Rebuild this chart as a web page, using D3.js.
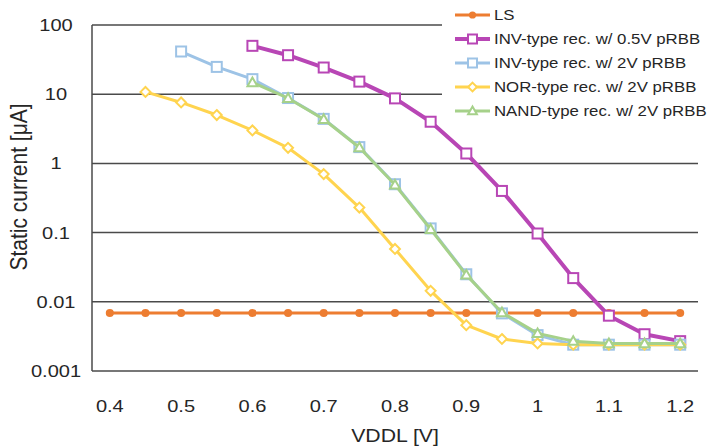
<!DOCTYPE html>
<meta charset="utf-8">
<script src="https://d3js.org/d3.v7.min.js"></script>
<style>
  body { margin: 0; background: #fff; }
  text { font-family: "Liberation Sans", Arial, sans-serif; fill: #262626; }
</style>
<div id="my_dataviz"></div>
<script>

// data (VDDL in V, current in uA)
var vddl = [0.4, 0.45, 0.5, 0.55, 0.6, 0.65, 0.7, 0.75, 0.8, 0.85, 0.9, 0.95, 1.0, 1.05, 1.1, 1.15, 1.2];
var ls      = [0.0069, 0.0069, 0.0069, 0.0069, 0.0069, 0.0069, 0.0069, 0.0069, 0.0069, 0.0069, 0.0069, 0.0069, 0.0069, 0.0069, 0.0069, 0.0069, 0.0069];
var inv05   = [null, null, null, null, 50, 36.6, 24.3, 15.2, 8.7, 4.0, 1.39, 0.40, 0.097, 0.022, 0.0063, 0.0034, 0.0027];
var inv2    = [null, null, 41.4, 24.8, 16.5, 8.8, 4.4, 1.72, 0.5, 0.115, 0.025, 0.0068, 0.0033, 0.0024, 0.0024, 0.0024, 0.0024];
var nor2    = [null, 10.8, 7.6, 5.0, 3.0, 1.68, 0.70, 0.23, 0.058, 0.0144, 0.0046, 0.0029, 0.0025, 0.0024, 0.0024, 0.0024, 0.0024];
var nand2   = [null, null, null, null, 14.8, 8.75, 4.35, 1.7, 0.49, 0.112, 0.0245, 0.0070, 0.0035, 0.0027, 0.0025, 0.0025, 0.0025];
var xTicks = [0.4, 0.5, 0.6, 0.7, 0.8, 0.9, 1.0, 1.1, 1.2];
var yTicks = [0.001, 0.01, 0.1, 1, 10, 100];
var seriesNames = ["LS", "INV-type rec. w/ 0.5V pRBB", "INV-type rec. w/ 2V pRBB", "NOR-type rec. w/ 2V pRBB", "NAND-type rec. w/ 2V pRBB"];

var series = [
  {name: seriesNames[0], values: ls,    color: "#ed7d31", marker: "circle",   width: 3},
  {name: seriesNames[1], values: inv05, color: "#b846b5", marker: "square",   width: 4},
  {name: seriesNames[2], values: inv2,  color: "#9dc3e6", marker: "square",   width: 3},
  {name: seriesNames[3], values: nor2,  color: "#ffd44f", marker: "diamond",  width: 3},
  {name: seriesNames[4], values: nand2, color: "#a6d18a", marker: "triangle", width: 3}
];

var W = 713, H = 446;
var plot = {left: 92, right: 698, top: 25, bottom: 371};
var stretch = 1.18;   // text in the source picture is a bit wider than tall

var svg = d3.select("#my_dataviz")
  .append("svg")
    .attr("width", W)
    .attr("height", H);

var x = d3.scaleLinear().domain([0.375, 1.225]).range([plot.left, plot.right]);
var y = d3.scaleLog().domain([0.001, 100]).range([plot.bottom, plot.top]);

// gridlines
svg.append("g")
  .selectAll("line")
  .data(yTicks)
  .enter()
  .append("line")
    .attr("x1", plot.left)
    .attr("x2", plot.right)
    .attr("y1", function(d) { return y(d); })
    .attr("y2", function(d) { return y(d); })
    .attr("stroke", "#4a4a4a")
    .attr("stroke-width", 1.5);

// left axis line
svg.append("line")
  .attr("x1", plot.left).attr("x2", plot.left)
  .attr("y1", plot.top).attr("y2", plot.bottom)
  .attr("stroke", "#4a4a4a")
  .attr("stroke-width", 1.5);

// tick labels
svg.append("g")
  .selectAll("text")
  .data(yTicks)
  .enter()
  .append("text")
    .attr("transform", function(d) { return "translate(56," + y(d) + ") scale(" + stretch + ",1)"; })
    .attr("dy", "0.35em")
    .style("text-anchor", "middle")
    .style("font-size", "17px")
    .text(function(d) { return d3.format("~g")(d); });

svg.append("g")
  .selectAll("text")
  .data(xTicks)
  .enter()
  .append("text")
    .attr("transform", function(d) { return "translate(" + x(d) + ",406) scale(" + stretch + ",1)"; })
    .attr("dy", "0.35em")
    .style("text-anchor", "middle")
    .style("font-size", "17px")
    .text(function(d) { return d3.format("~g")(d); });

// axis titles
svg.append("text")
  .attr("transform", "translate(27,187) rotate(-90) scale(1," + stretch + ")")
  .style("text-anchor", "middle")
  .style("font-size", "21px")
  .text("Static current [\u03bcA]");

svg.append("text")
  .attr("transform", "translate(395,442) scale(" + stretch + ",1)")
  .style("text-anchor", "middle")
  .style("font-size", "18px")
  .text("VDDL [V]");

// legend background hides gridlines behind it
svg.append("rect")
  .attr("x", 442).attr("y", 0)
  .attr("width", W - 442).attr("height", 124)
  .attr("fill", "#fff");

function drawMarker(g, s, cx, cy, size) {
  if (s.marker === "circle") {
    g.append("circle").attr("cx", cx).attr("cy", cy).attr("r", size * 0.45)
      .attr("fill", s.color);
  } else if (s.marker === "square") {
    g.append("rect").attr("x", cx - size / 2).attr("y", cy - size / 2)
      .attr("width", size).attr("height", size)
      .attr("fill", "#fff").attr("stroke", s.color).attr("stroke-width", 2);
  } else if (s.marker === "diamond") {
    var r = size * 0.55;
    g.append("path")
      .attr("d", "M" + cx + "," + (cy - r) + "L" + (cx + r) + "," + cy + "L" + cx + "," + (cy + r) + "L" + (cx - r) + "," + cy + "Z")
      .attr("fill", "#fff").attr("stroke", s.color).attr("stroke-width", 2);
  } else {
    var t = size * 0.55;
    g.append("path")
      .attr("d", "M" + cx + "," + (cy - t) + "L" + (cx + t) + "," + (cy + t * 0.75) + "L" + (cx - t) + "," + (cy + t * 0.75) + "Z")
      .attr("fill", "#fff").attr("stroke", s.color).attr("stroke-width", 2);
  }
}

var line = d3.line()
  .defined(function(d) { return d.v != null; })
  .x(function(d) { return x(d.x); })
  .y(function(d) { return y(d.v); });

series.forEach(function(s) {
  var pts = vddl.map(function(v, j) { return {x: v, v: s.values[j]}; });
  var g = svg.append("g");
  g.append("path")
    .datum(pts)
    .attr("fill", "none")
    .attr("stroke", s.color)
    .attr("stroke-width", s.width)
    .attr("stroke-linejoin", "round")
    .attr("d", line);
  pts.filter(function(d) { return d.v != null; }).forEach(function(d) {
    drawMarker(g, s, x(d.x), y(d.v), s.marker === "square" ? 10 : 9);
  });
});

// legend
var leg = svg.append("g");
series.forEach(function(s, i) {
  var ly = 15 + i * 24;
  leg.append("line")
    .attr("x1", 455).attr("x2", 490)
    .attr("y1", ly).attr("y2", ly)
    .attr("stroke", s.color)
    .attr("stroke-width", s.width);
  drawMarker(leg, s, 472.5, ly, s.marker === "square" ? 9 : 8);
  leg.append("text")
    .attr("transform", "translate(494," + ly + ") scale(1.12,1)")
    .attr("dy", "0.35em")
    .style("font-size", "15px")
    .text(s.name);
});

</script>
